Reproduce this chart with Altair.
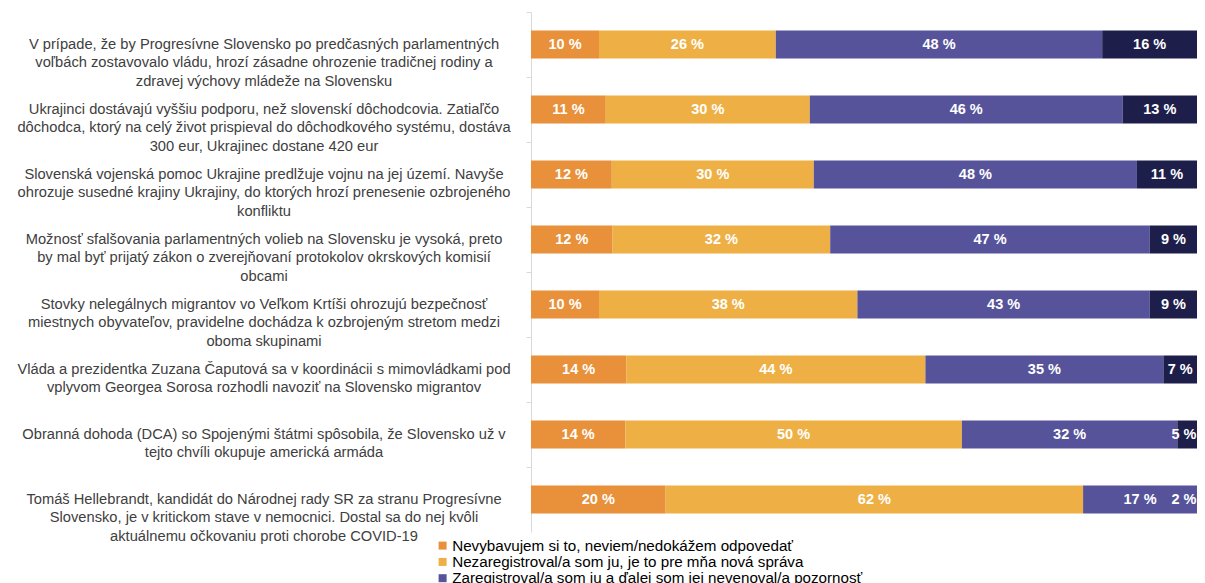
import altair as alt
import pandas as pd

statements = [
    "V prípade, že by Progresívne Slovensko po predčasných parlamentných\nvoľbách zostavovalo vládu, hrozí zásadne ohrozenie tradičnej rodiny a\nzdravej výchovy mládeže na Slovensku",
    "Ukrajinci dostávajú vyššiu podporu, než slovenskí dôchodcovia. Zatiaľčo\ndôchodca, ktorý na celý život prispieval do dôchodkového systému, dostáva\n300 eur, Ukrajinec dostane 420 eur",
    "Slovenská vojenská pomoc Ukrajine predlžuje vojnu na jej území. Navyše\nohrozuje susedné krajiny Ukrajiny, do ktorých hrozí prenesenie ozbrojeného\nkonfliktu",
    "Možnosť sfalšovania parlamentných volieb na Slovensku je vysoká, preto\nby mal byť prijatý zákon o zverejňovaní protokolov okrskových komisií\nobcami",
    "Stovky nelegálnych migrantov vo Veľkom Krtíši ohrozujú bezpečnosť\nmiestnych obyvateľov, pravidelne dochádza k ozbrojeným stretom medzi\noboma skupinami",
    "Vláda a prezidentka Zuzana Čaputová sa v koordinácii s mimovládkami pod\nvplyvom Georgea Sorosa rozhodli navoziť na Slovensko migrantov",
    "Obranná dohoda (DCA) so Spojenými štátmi spôsobila, že Slovensko už v\ntejto chvíli okupuje americká armáda",
    "Tomáš Hellebrandt, kandidát do Národnej rady SR za stranu Progresívne\nSlovensko, je v kritickom stave v nemocnici. Dostal sa do nej kvôli\naktuálnemu očkovaniu proti chorobe COVID-19",
]

categories = [
    "Nevybavujem si to, neviem/nedokážem odpovedať",
    "Nezaregistroval/a som ju, je to pre mňa nová správa",
    "Zaregistroval/a som ju a ďalej som jej nevenoval/a pozornosť",
    "Zaregistroval/a som ju a venoval/a som jej pozornosť",
]
colors = ["#E8903A", "#EEB045", "#56539A", "#1E1E4B"]

v_dontknow = [10, 11, 12, 12, 10, 14, 14, 20]
v_new = [26, 30, 30, 32, 38, 44, 50, 62]
v_ignored = [48, 46, 48, 47, 43, 35, 32, 17]
v_attention = [16, 13, 11, 9, 9, 7, 5, 2]

series = [v_dontknow, v_new, v_ignored, v_attention]
rows = []
for ci, (cat, vals) in enumerate(zip(categories, series)):
    for s, v in zip(statements, vals):
        rows.append({"statement": s, "category": cat, "order": ci,
                     "value": v, "lbl": f"{v} %"})
df = pd.DataFrame(rows)
labels_df = pd.DataFrame({"statement": statements})

FONT = "Liberation Sans"
PLOT_W = 666          # visible plot width (page crops the bars on the right)
FULL_W = 680          # width that 100 % would take
D = PLOT_W / FULL_W   # visible share of the 100 % scale
MARGIN = 13 / FULL_W  # keep value labels inside the visible area

y_enc = alt.Y("statement:N", sort=statements,
              scale=alt.Scale(paddingInner=0.57, paddingOuter=0.285),
              axis=alt.Axis(title=None, labels=False, domainColor="#d9d9d9",
                            tickColor="#d9d9d9", tickSize=5, tickOffset=-32.5))

base = alt.Chart(df).transform_stack(
    stack="value", groupby=["statement"], as_=["x0", "x1"],
    offset="normalize", sort=[alt.SortField("order", order="ascending")]
).transform_calculate(
    xm=f"min((datum.x0 + min(datum.x1, {D})) / 2, {D - MARGIN})"
)

xscale = alt.Scale(domain=[0, D], nice=False, zero=True)

bars = base.mark_bar().encode(
    x=alt.X("x0:Q", scale=xscale, axis=None),
    x2="x1:Q",
    y=y_enc,
    color=alt.Color("category:N", sort=categories,
                    scale=alt.Scale(domain=categories, range=colors),
                    legend=alt.Legend(values=categories[:3], orient="none",
                                      legendX=-96, legendY=526, title=None,
                                      labelFontSize=15.2, labelColor="black",
                                      labelFont=FONT, symbolType="square",
                                      symbolSize=64, symbolStrokeWidth=0,
                                      labelLimit=0, rowPadding=0.3,
                                      labelOffset=2, padding=0)),
)

vals = base.mark_text(color="white", fontWeight="bold", fontSize=14.5,
                      font=FONT, baseline="middle").encode(
    x=alt.X("xm:Q", scale=xscale, axis=None),
    y=alt.Y("statement:N", sort=statements),
    text="lbl:N",
)

stmt_text = alt.Chart(labels_df).mark_text(
    align="center", baseline="middle", lineBreak="\n", fontSize=14.7,
    lineHeight=18.5, color="#404040", font=FONT
).encode(
    x=alt.value(-267),
    y=alt.Y("statement:N", sort=statements),
    text="statement:N",
)

chart = alt.layer(bars, vals, stmt_text).properties(
    width=PLOT_W, height=520,
    autosize=alt.AutoSizeParams(type="none"),
    padding={"left": 523, "top": 4, "right": 0, "bottom": 51},
).configure(font=FONT).configure_view(stroke=None, strokeWidth=0)

chart.save("out.html", embed_options={"renderer": "svg", "actions": False})
